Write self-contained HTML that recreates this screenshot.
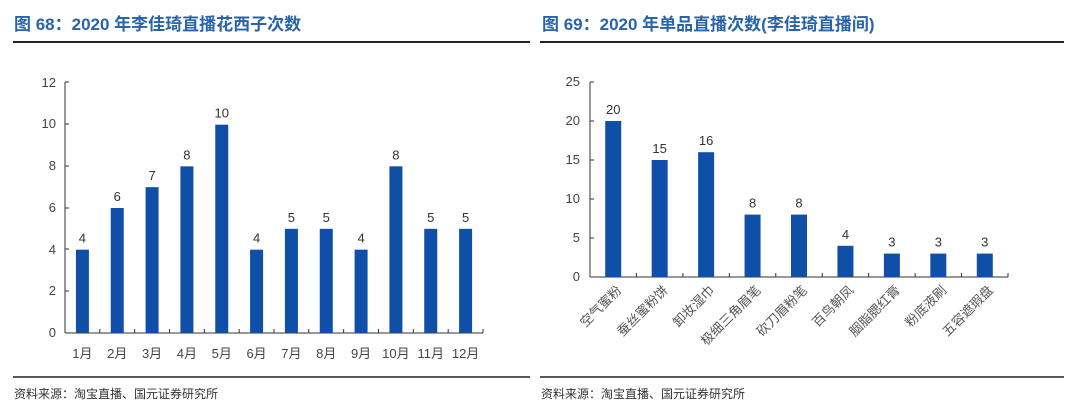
<!DOCTYPE html>
<html><head><meta charset="utf-8"><style>
body{margin:0;background:#fff;}
svg{display:block;font-family:"Liberation Sans","Noto Sans CJK SC",sans-serif;}
</style></head><body>
<svg width="1080" height="412" viewBox="0 0 1080 412" xmlns="http://www.w3.org/2000/svg">
<g font-weight="bold" fill="#2a64a8" font-size="17">
<text x="14" y="30">图 68：2020 年李佳琦直播花西子次数</text>
<text x="542" y="30">图 69：2020 年单品直播次数(李佳琦直播间)</text>
</g>
<line x1="13" y1="42" x2="530" y2="42" stroke="#222" stroke-width="2"/>
<line x1="540" y1="42" x2="1064" y2="42" stroke="#222" stroke-width="2"/>
<line x1="13" y1="377" x2="530" y2="377" stroke="#222" stroke-width="1.5"/>
<line x1="540" y1="377" x2="1064" y2="377" stroke="#222" stroke-width="1.5"/>
<g font-size="12" fill="#333">
<text x="14" y="398">资料来源：淘宝直播、国元证券研究所</text>
<text x="541" y="398">资料来源：淘宝直播、国元证券研究所</text>
</g>
<g stroke="#333" stroke-width="1">
<line x1="65" y1="82" x2="65" y2="333"/>
<line x1="65" y1="333" x2="483" y2="333"/>
</g>
<g font-size="13" fill="#444" text-anchor="end">
<text x="56" y="337">0</text><text x="56" y="295">2</text><text x="56" y="254">4</text><text x="56" y="212">6</text><text x="56" y="170">8</text><text x="56" y="128">10</text><text x="56" y="87">12</text>
</g>
<g stroke="#333"><line x1="65" y1="82" x2="69" y2="82"/><line x1="65" y1="124" x2="69" y2="124"/><line x1="65" y1="166" x2="69" y2="166"/><line x1="65" y1="208" x2="69" y2="208"/><line x1="65" y1="249" x2="69" y2="249"/><line x1="65" y1="291" x2="69" y2="291"/></g>
<g id="L"></g>
<g stroke="#333" stroke-width="1">
<line x1="590" y1="82" x2="590" y2="277"/>
<line x1="590" y1="277" x2="1008" y2="277"/>
</g>
<g font-size="13" fill="#444" text-anchor="end">
<text x="580" y="281">0</text><text x="580" y="242">5</text><text x="580" y="203">10</text><text x="580" y="164">15</text><text x="580" y="125">20</text><text x="580" y="86">25</text>
</g>
<g stroke="#333"><line x1="590" y1="82" x2="594" y2="82"/><line x1="590" y1="121" x2="594" y2="121"/><line x1="590" y1="160" x2="594" y2="160"/><line x1="590" y1="199" x2="594" y2="199"/><line x1="590" y1="238" x2="594" y2="238"/></g>
<g id="R"></g>
</svg>
<script>
var ns="http://www.w3.org/2000/svg";
function el(p,t,a,txt){var e=document.createElementNS(ns,t);for(var k in a)e.setAttribute(k,a[k]);if(txt!=null)e.textContent=txt;p.appendChild(e);return e;}
var L=document.getElementById("L"),v=[4,6,7,8,10,4,5,5,4,8,5,5],cw=(483-65)/12,u=250/12;
v.forEach(function(d,i){var cx=65+cw*(i+.5),h=d*u;
el(L,"rect",{x:cx-6.5,y:333-h,width:13,height:h,fill:"#0f4fa8"});
el(L,"text",{x:cx,y:333-h-7,"font-size":13,fill:"#333","text-anchor":"middle"},d);
el(L,"text",{x:cx,y:358,"font-size":13,fill:"#444","text-anchor":"middle"},(i+1)+"月");
el(L,"line",{x1:65+cw*(i+1),y1:333,x2:65+cw*(i+1),y2:329,stroke:"#333"});});
var R=document.getElementById("R"),w=[20,15,16,8,8,4,3,3,3],n=["空气蜜粉","蚕丝蜜粉饼","卸妆湿巾","极细三角眉笔","砍刀眉粉笔","百鸟朝凤","胭脂腮红膏","粉底液刷","五容遮瑕盘"],cr=(1008-590)/9,ur=195/25;
w.forEach(function(d,i){var cx=590+cr*(i+.5),h=d*ur;
el(R,"rect",{x:cx-8,y:277-h,width:16,height:h,fill:"#0f4fa8"});
el(R,"text",{x:cx,y:277-h-7,"font-size":13,fill:"#333","text-anchor":"middle"},d);
var tx=cx+9,ty=291;
el(R,"text",{x:tx,y:ty,"font-size":13,fill:"#555","text-anchor":"end",transform:"rotate(-45 "+tx+" "+ty+")"},n[i]);
el(R,"line",{x1:590+cr*(i+1),y1:277,x2:590+cr*(i+1),y2:273,stroke:"#333"});});
</script>
</body></html>
